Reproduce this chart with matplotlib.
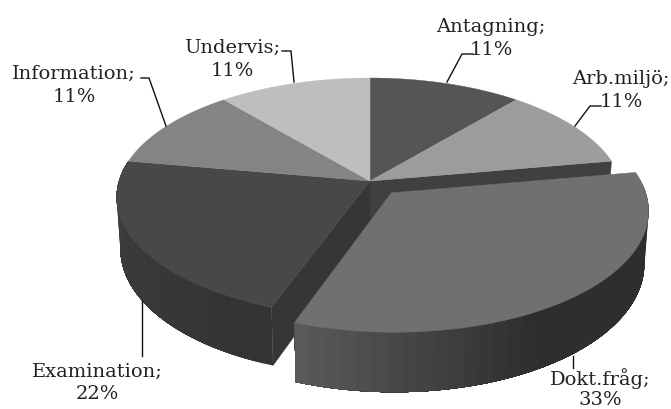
import matplotlib
matplotlib.use('Agg')
import matplotlib.pyplot as plt
from matplotlib.patches import Polygon
import numpy as np

names = ['Antagning', 'Arb.miljö', 'Dokt.fråg', 'Examination', 'Information', 'Undervis']
shares = [11, 11, 33, 22, 11, 11]

top_colors = ['#555555', '#9c9c9c', '#707070', '#484848', '#848484', '#bebebe']

# text anchor (centre x, first baseline, second baseline), pixels
label_pos = [(491, 32, 55), (621, 84, 107), (600, 385, 405), (97, 377, 399), (74, 79, 102), (232, 53, 76)]
leaders = [
    [(473, 55), (462, 55), (447, 83)],
    [(601, 107), (590, 107), (575, 127)],
    [(573, 369), (573, 357)],
    [(142, 357), (142, 302)],
    [(141, 79), (149, 79), (166, 127)],
    [(282, 52), (291, 52), (294, 83)],
]

# projection of the tilted disc to pixels
CX, CY = 370, 182
A, B, P = 251, 117, 0.136
DEPTH = 51
EXPLODE = 0.13


def project(theta, r=1.0, mid=None, down=False):
    # theta in degrees clockwise from top
    t = np.radians(theta)
    u = r * np.sin(t)
    v = r * np.cos(t)
    if mid is not None:
        m = np.radians(mid)
        u = u + EXPLODE * np.sin(m)
        v = v + EXPLODE * np.cos(m)
    w = 1 + P * v
    x = A * u / w
    y = -B * v / w
    if down:
        x = x * 0.985
        y = y + DEPTH / w
    return CX + x, CY + y


def mix(c1, c2, f):
    f = min(max(f, 0), 1)
    return tuple((a + (b - a) * f) / 255 for a, b in zip(c1, c2))


def top_poly(a1, a2, mid=None):
    th = np.linspace(a1, a2, 80)
    x, y = project(th, mid=mid)
    cx, cy = project(0, r=0, mid=mid)
    return np.vstack([[cx, cy], np.column_stack([x, y])])


def wall(ax, theta, color, mid=None):
    x1, y1 = project(0, r=0, mid=mid)
    x2, y2 = project(theta, mid=mid)
    x3, y3 = project(theta, mid=mid, down=True)
    x4, y4 = project(0, r=0, mid=mid, down=True)
    ax.add_patch(Polygon([(x1, y1), (x2, y2), (x3, y3), (x4, y4)], fc=color, ec=color, lw=0.3))


def rim(ax, a1, a2, shade, mid=None):
    # each strip runs to the far end, the next one paints over it, so no seams
    th = np.linspace(a1, a2, 40)
    for i in range(len(th) - 1):
        part = np.linspace(th[i], a2, 60)
        x1, y1 = project(part, mid=mid)
        x2, y2 = project(part[::-1], mid=mid, down=True)
        pts = np.column_stack([np.concatenate([x1, x2]), np.concatenate([y1, y2])])
        ax.add_patch(Polygon(pts, fc=shade(th[i]), ec='none'))


fig = plt.figure(figsize=(6.71, 4.10), dpi=100)
ax = fig.add_axes([0, 0, 1, 1])
ax.set_xlim(0, 671)
ax.set_ylim(410, 0)
ax.axis('off')

edges = np.cumsum([0] + shares) / sum(shares) * 360
dokt = names.index('Dokt.fråg')
exam = names.index('Examination')
arb = names.index('Arb.miljö')
mid_dokt = (edges[dokt] + edges[dokt + 1]) / 2

# back to front: cut walls, outer rim, top faces, then the pulled out slice
wall(ax, edges[arb + 1], '#404040')
wall(ax, edges[exam], '#363636')
rim(ax, edges[exam], edges[exam + 1],
    lambda t: mix((0x33, 0x33, 0x33), (0x40, 0x40, 0x40), (t - edges[exam]) / 80))

for i in range(len(names)):
    if i != dokt:
        ax.add_patch(Polygon(top_poly(edges[i], edges[i + 1]), fc=top_colors[i], ec=top_colors[i], lw=0.3))

rim(ax, edges[dokt], edges[dokt + 1],
    lambda t: mix((0x2e, 0x2e, 0x2e), (0x5c, 0x5c, 0x5c), (t - 150) / 50), mid=mid_dokt)
ax.add_patch(Polygon(top_poly(edges[dokt], edges[dokt + 1], mid=mid_dokt),
                     fc=top_colors[dokt], ec=top_colors[dokt], lw=0.3))

for pts in leaders:
    ax.plot([p[0] for p in pts], [p[1] for p in pts], color='#111111', lw=1.0, solid_joinstyle='miter')

for name, share, pos in zip(names, shares, label_pos):
    ax.text(pos[0], pos[1], name + ';', ha='center', va='baseline', family='DejaVu Serif', fontsize=14, color='#222222')
    ax.text(pos[0], pos[2], str(share) + '%', ha='center', va='baseline', family='DejaVu Serif', fontsize=14, color='#222222')

fig.savefig('out.png', dpi=100)
